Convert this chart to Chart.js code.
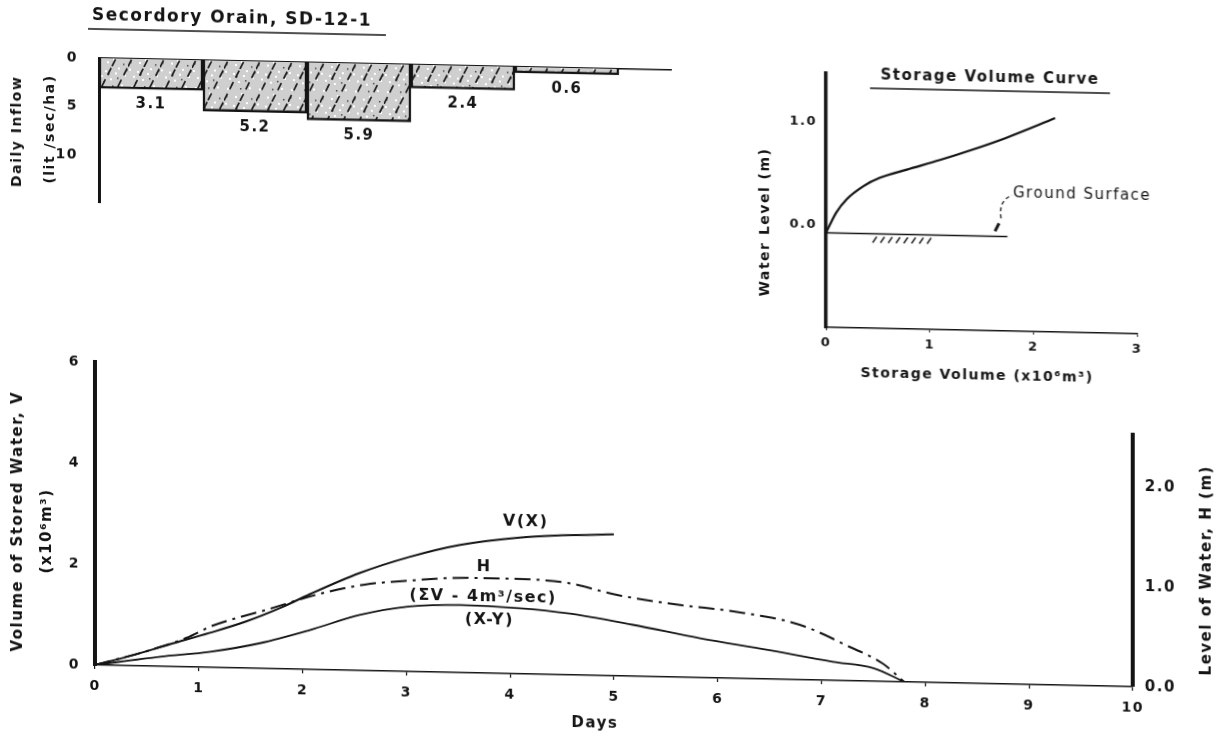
<!DOCTYPE html>
<html>
<head>
<meta charset="utf-8">
<script src="https://cdn.jsdelivr.net/npm/chart.js@4/dist/chart.umd.min.js"></script>
<style>
  html, body { margin: 0; padding: 0; background: #fff; }
  #page { position: relative; width: 1224px; height: 740px; overflow: visible;
          transform: skewY(1.2deg); transform-origin: 0 0; }
  canvas { position: absolute; }
</style>
</head>
<body>
<div id="page">
  <canvas id="inflowChart" width="700" height="230" style="left:0;top:0;width:700px;height:230px"></canvas>
  <canvas id="storageChart" width="484" height="400" style="left:740px;top:0;width:484px;height:400px"></canvas>
  <canvas id="mainChart" width="1224" height="410" style="left:0;top:330px;width:1224px;height:410px"></canvas>
</div>
<script>
// daily inflow, lit/sec/ha
const inflowDays = [1, 2, 3, 4, 5];
const inflowValues = [3.1, 5.2, 5.9, 2.4, 0.6];
const inflowTicks = [0, 5, 10];

// storage volume curve
const storageVolume = [0, 0.10, 0.20, 0.36, 0.52, 0.78, 1.10, 1.42, 1.74, 2.21];
const storageLevel = [-0.08, 0.12, 0.25, 0.38, 0.465, 0.55, 0.65, 0.76, 0.88, 1.08];
const groundVolume = [0, 1.75];
const groundLevel = [-0.08, -0.08];
const storageLevelTicks = [0, 1];

// V(X), stored water (x10^6 m3)
const vxDays = [0, 0.35, 0.72, 1.1, 1.45, 1.8, 2.07, 2.55, 3.03, 3.52, 4.09, 4.5, 5.0];
const vxVolume = [0, 0.2, 0.44, 0.68, 0.92, 1.22, 1.49, 1.93, 2.27, 2.53, 2.70, 2.76, 2.80];
// H, level of water (m)
const hDays = [0, 0.5, 0.88, 1.14, 1.66, 2.17, 2.6, 3.03, 3.6, 4.0, 4.55, 5.03, 5.66, 6.15, 6.79, 7.27, 7.59, 7.8];
const hLevel = [0, 0.15, 0.29, 0.42, 0.59, 0.76, 0.86, 0.91, 0.95, 0.95, 0.92, 0.81, 0.72, 0.67, 0.55, 0.34, 0.18, 0];
// (X-Y)
const xyDays = [0, 0.63, 1.11, 1.59, 2.07, 2.55, 3.03, 3.52, 4.09, 4.55, 5.18, 5.83, 6.47, 7.11, 7.5, 7.8];
const xyVolume = [0, 0.19, 0.31, 0.50, 0.78, 1.10, 1.29, 1.34, 1.30, 1.22, 1.02, 0.78, 0.58, 0.37, 0.26, 0];
const levelTicks = [0, 1, 2];
const levelAxisTop = 2.54;

const INK = '#141414';
const FONT = "'DejaVu Sans', 'Liberation Sans', sans-serif";
const font = (size, weight) => ({ family: FONT, size: size, weight: weight || 'bold' });

Chart.defaults.color = INK;
Chart.defaults.font.family = FONT;

const pts = (xs, ys) => xs.map((x, i) => ({ x: x, y: ys[i] }));

function hatchPattern() {
    const c = document.createElement('canvas');
    c.width = 32; c.height = 32;
    const g = c.getContext('2d');
    g.fillStyle = '#cfcfcf';
    g.fillRect(0, 0, 32, 32);
    g.fillStyle = '#ffffff';
    [[1, 2], [5, 9], [9, 4], [14, 12], [19, 6], [25, 18], [3, 19], [11, 27], [22, 1], [28, 8], [17, 24]].forEach(p => g.fillRect(p[0], p[1], 2, 2));
    g.fillStyle = '#4a4a4a';
    [[7, 15], [21, 11], [12, 7], [2, 27], [27, 29], [30, 3], [16, 19]].forEach(p => g.fillRect(p[0], p[1], 1.5, 1.5));
    g.strokeStyle = '#1e1e1e';
    g.lineWidth = 1.7;
    g.setLineDash([8, 5]);
    g.beginPath();
    g.moveTo(0, 32); g.lineTo(16, 0);
    g.moveTo(16, 32); g.lineTo(32, 0);
    g.stroke();
    return g.createPattern(c, 'repeat');
}

// free text (titles, curve names) drawn on the canvas
const textMarks = {
    id: 'textMarks',
    beforeLayout(chart) { chart.ctx.letterSpacing = '1.5px'; },
    beforeDraw(chart) { chart.ctx.letterSpacing = '1.5px'; },
    afterDraw(chart, args, opts) {
        const ctx = chart.ctx;
        ctx.save();
        ctx.fillStyle = INK;
        ctx.strokeStyle = INK;
        ctx.textBaseline = 'middle';
        (opts.items || []).forEach(it => {
            let x = it.x, y = it.y;
            if (it.dataX !== undefined) {
                x = chart.scales.x.getPixelForValue(it.dataX);
                y = chart.scales[it.axis || 'y'].getPixelForValue(it.dataY);
            }
            ctx.font = (it.weight || 'bold') + ' ' + (it.size || 15) + 'px ' + FONT;
            ctx.textAlign = it.align || 'center';
            ctx.save();
            ctx.translate(x, y);
            if (it.rotate) ctx.rotate(it.rotate);
            ctx.fillText(it.text, 0, 0);
            ctx.restore();
            if (it.underline) {
                ctx.lineWidth = 1.6;
                ctx.beginPath();
                ctx.moveTo(it.underline[0], it.underline[2]);
                ctx.lineTo(it.underline[1], it.underline[2]);
                ctx.stroke();
            }
        });
        ctx.restore();
    }
};

const barValues = {
    id: 'barValues',
    afterDatasetsDraw(chart) {
        const ctx = chart.ctx;
        const meta = chart.getDatasetMeta(0);
        ctx.save();
        ctx.font = 'bold 15px ' + FONT;
        ctx.fillStyle = INK;
        ctx.textAlign = 'center';
        ctx.textBaseline = 'middle';
        meta.data.forEach((bar, i) => ctx.fillText(inflowValues[i].toFixed(1), bar.x, bar.y + 15));
        ctx.restore();
    }
};

// ---------- daily inflow bars ----------
new Chart(document.getElementById('inflowChart'), {
    type: 'bar',
    data: {
        datasets: [{
            data: pts(inflowDays.map(d => d - 0.5), inflowValues),
            backgroundColor: hatchPattern(),
            borderColor: INK,
            borderWidth: 2.5,
            borderSkipped: 'start',
            barPercentage: 1,
            categoryPercentage: 1
        }]
    },
    options: {
        responsive: false,
        animation: false,
        layout: { padding: { top: 56, right: 29, bottom: 27, left: 0 } },
        plugins: {
            legend: { display: false },
            tooltip: { enabled: false },
            textMarks: {
                items: [
                    { text: 'Secordory Orain, SD-12-1', x: 92, y: 14, size: 17, align: 'left', underline: [88, 386, 27] },
                    { text: 'Daily Inflow', x: 17, y: 131, size: 14, rotate: -Math.PI / 2 },
                    { text: '(lit /sec/ha)', x: 50, y: 128, size: 14, rotate: -Math.PI / 2 }
                ]
            }
        },
        scales: {
            x: {
                type: 'linear', position: 'top', min: 0, max: 5.5, offset: false,
                ticks: { display: false, stepSize: 1, includeBounds: false },
                grid: { display: false, drawTicks: false },
                border: { display: true, color: INK, width: 1.6 },
                afterFit: s => { s.height = 0; }
            },
            y: {
                reverse: true, min: 0, max: 14.85,
                afterBuildTicks: s => { s.ticks = inflowTicks.map(v => ({ value: v })); },
                ticks: { padding: 21, font: font(14), color: INK },
                grid: { display: false, drawTicks: false },
                border: { color: INK, width: 3 },
                afterFit: s => { s.width = 99; }
            }
        }
    },
    plugins: [textMarks, barValues]
});

// ---------- storage volume curve ----------
const groundMarks = {
    id: 'groundMarks',
    afterDraw(chart) {
        const ctx = chart.ctx, xs = chart.scales.x, ys = chart.scales.y;
        const gy = ys.getPixelForValue(groundLevel[0]);
        ctx.save();
        ctx.strokeStyle = INK;
        ctx.lineWidth = 1.5;
        for (let v = 0.45; v <= 1.02; v += 0.075) {
            const px = xs.getPixelForValue(v);
            ctx.beginPath();
            ctx.moveTo(px + 4, gy + 3);
            ctx.lineTo(px, gy + 9);
            ctx.stroke();
        }
        // leader to the label
        ctx.lineWidth = 3;
        ctx.beginPath();
        ctx.moveTo(255, gy - 5);
        ctx.lineTo(259, gy - 13);
        ctx.stroke();
        ctx.lineWidth = 1.3;
        ctx.setLineDash([4, 3]);
        ctx.beginPath();
        ctx.moveTo(261, gy - 18);
        ctx.quadraticCurveTo(258, 180, 272, 174);
        ctx.stroke();
        ctx.restore();
    }
};

new Chart(document.getElementById('storageChart'), {
    type: 'line',
    data: {
        datasets: [
            {
                data: pts(storageVolume, storageLevel),
                borderColor: INK, borderWidth: 2.2, pointRadius: 0,
                cubicInterpolationMode: 'monotone', fill: false
            },
            {
                data: pts(groundVolume, groundLevel),
                borderColor: INK, borderWidth: 1.5, pointRadius: 0, fill: false
            }
        ]
    },
    options: {
        responsive: false,
        animation: false,
        layout: { padding: { top: 56, right: 87, bottom: 0, left: 0 } },
        plugins: {
            legend: { display: false },
            tooltip: { enabled: false },
            textMarks: {
                items: [
                    { text: 'Storage Volume Curve', x: 250, y: 57, size: 15, underline: [130, 370, 70] },
                    { text: 'Water Level (m)', x: 25, y: 206, size: 14, rotate: -Math.PI / 2 },
                    { text: 'Storage Volume (x10\u2076m\u00b3)', x: 237, y: 355, size: 14 },
                    { text: 'Ground Surface', x: 273, y: 172, size: 15, weight: 'normal', align: 'left' }
                ]
            }
        },
        scales: {
            x: {
                type: 'linear', min: 0, max: 3,
                ticks: { stepSize: 1, padding: 5, font: font(13), color: INK },
                grid: { drawOnChartArea: false, drawTicks: true, tickLength: 3, color: INK },
                border: { color: INK, width: 1.6 },
                afterFit: s => { s.height = 90; }
            },
            y: {
                min: -1, max: 1.47,
                afterBuildTicks: s => { s.ticks = storageLevelTicks.map(v => ({ value: v })); },
                ticks: { padding: 9, font: font(13), color: INK, callback: v => v.toFixed(1) },
                grid: { display: false, drawTicks: false },
                border: { color: INK, width: 3.5 },
                afterFit: s => { s.width = 86; }
            }
        }
    },
    plugins: [textMarks, groundMarks]
});

// ---------- stored water and water level ----------
const levelAxis = {
    id: 'levelAxis',
    afterDraw(chart) {
        const ctx = chart.ctx, s = chart.scales.y2;
        const x = chart.chartArea.right;
        ctx.save();
        ctx.strokeStyle = INK;
        ctx.lineWidth = 4;
        ctx.beginPath();
        ctx.moveTo(x, s.getPixelForValue(0));
        ctx.lineTo(x, s.getPixelForValue(levelAxisTop));
        ctx.stroke();
        ctx.restore();
    }
};

new Chart(document.getElementById('mainChart'), {
    type: 'line',
    data: {
        datasets: [
            {
                label: 'V(X)', data: pts(vxDays, vxVolume), yAxisID: 'y',
                borderColor: INK, borderWidth: 2, pointRadius: 0,
                cubicInterpolationMode: 'monotone', fill: false
            },
            {
                label: 'H', data: pts(hDays, hLevel), yAxisID: 'y2',
                borderColor: INK, borderWidth: 2, borderDash: [16, 6, 3, 6], pointRadius: 0,
                cubicInterpolationMode: 'monotone', fill: false
            },
            {
                label: '(X-Y)', data: pts(xyDays, xyVolume), yAxisID: 'y',
                borderColor: INK, borderWidth: 1.8, pointRadius: 0,
                cubicInterpolationMode: 'monotone', fill: false
            }
        ]
    },
    options: {
        responsive: false,
        animation: false,
        layout: { padding: { top: 30, right: 0, bottom: 0, left: 0 } },
        plugins: {
            legend: { display: false },
            tooltip: { enabled: false },
            textMarks: {
                items: [
                    { text: 'V(X)', dataX: 4.15, dataY: 3.02, size: 16 },
                    { text: 'H', dataX: 3.75, dataY: 2.11, size: 16 },
                    { text: '(\u03a3V - 4m\u00b3/sec)', dataX: 3.74, dataY: 1.51, size: 16 },
                    { text: '(X-Y)', dataX: 3.8, dataY: 1.06, size: 16 },
                    { text: 'Volume of Stored Water, V', x: 18, y: 191, size: 15, rotate: -Math.PI / 2 },
                    { text: '(x10\u2076m\u00b3)', x: 47, y: 200, size: 15, rotate: -Math.PI / 2 },
                    { text: 'Level of Water, H (m)', x: 1207, y: 215, size: 15, rotate: -Math.PI / 2 },
                    { text: 'Days', x: 595, y: 381, size: 15 }
                ]
            }
        },
        scales: {
            x: {
                type: 'linear', min: 0, max: 10,
                ticks: { stepSize: 1, padding: 9, font: font(14), color: INK },
                grid: { drawOnChartArea: false, drawTicks: true, tickLength: 4, color: INK, lineWidth: 1.2 },
                border: { color: INK, width: 1.6 },
                afterFit: s => { s.height = 77; }
            },
            y: {
                min: 0, max: 6,
                ticks: { stepSize: 2, padding: 15, font: font(14), color: INK },
                grid: { display: false, drawTicks: false },
                border: { color: INK, width: 4 },
                afterFit: s => { s.width = 95; }
            },
            y2: {
                position: 'right', min: 0, max: 3.03,
                afterBuildTicks: s => { s.ticks = levelTicks.map(v => ({ value: v })); },
                ticks: { padding: 12, font: font(15), color: INK, callback: v => v.toFixed(1) },
                grid: { display: false, drawTicks: false },
                border: { display: false },
                afterFit: s => { s.width = 91; }
            }
        }
    },
    plugins: [textMarks, levelAxis]
});
</script>
</body>
</html>
